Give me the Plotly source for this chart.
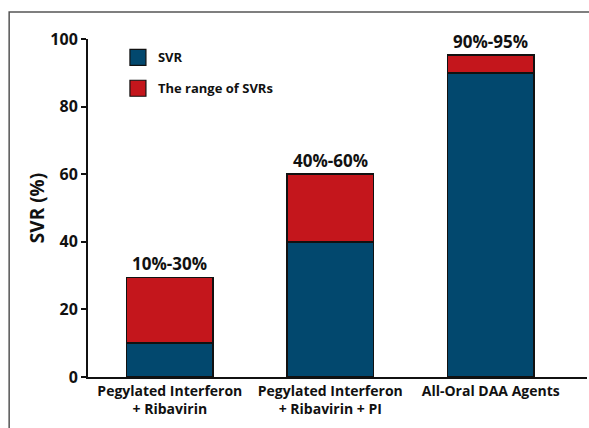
import plotly.graph_objects as go

categories = ["Pegylated Interferon<br>+ Ribavirin",
              "Pegylated Interferon<br>+ Ribavirin + PI",
              "All-Oral DAA Agents"]
svr = [10, 40, 90]
svr_range = [19.5, 20, 5.2]
range_labels = ["10%-30%", "40%-60%", "90%-95%"]
y_ticks = [0, 20, 40, 60, 80, 100]
series_names = ["SVR", "The range of SVRs"]

FONT = "Open Sans"
BLUE = "#02486E"
RED = "#C4161C"
colors = [BLUE, RED]

fig = go.Figure()
for name, vals, col in zip(series_names, [svr, svr_range], colors):
    fig.add_trace(go.Bar(x=categories, y=vals, name=name, showlegend=False,
                         marker=dict(color=col, line=dict(color="#111", width=1.5)), width=0.54))
# legend entries with larger square swatches
for i, (name, col) in enumerate(zip(series_names, colors)):
    fig.add_trace(go.Scatter(x=[None], y=[None], mode="markers", name=name, legendgroup="g%d" % i,
                             marker=dict(symbol="square", size=16, color=col, line=dict(color="#111", width=1.2))))

totals = [a + b for a, b in zip(svr, svr_range)]
for c, t, lab in zip(categories, totals, range_labels):
    fig.add_annotation(x=c, y=t, text=lab, showarrow=False, yanchor="bottom", yshift=0,
                       font=dict(family=FONT, size=17, color="#111", weight="bold"))

# frame: top and left edges (right/bottom run off the page)
fig.add_shape(type="path", xref="paper", yref="paper", path="M -0.158,-0.3 L -0.158,1.08 L 1.2,1.08",
              line=dict(color="#555", width=1.5), layer="below")

fig.update_layout(
    width=589, height=428,
    margin=dict(l=88, r=2, t=39, b=51),
    barmode="stack",
    plot_bgcolor="white", paper_bgcolor="white",
    font=dict(family=FONT, color="#111"),
    showlegend=True,
    legend=dict(x=0.06, y=0.99, xanchor="left", yanchor="top", traceorder="grouped", itemsizing="trace",
                tracegroupgap=11, font=dict(family=FONT, size=13, color="#111", weight="bold"),
                bgcolor="rgba(0,0,0,0)"),
    xaxis=dict(range=[-0.51, 2.6], showline=True, linecolor="#111", linewidth=2, ticks="",
               tickfont=dict(family=FONT, size=14, color="#111", weight="bold"), showgrid=False, fixedrange=True),
    yaxis=dict(range=[0, 100], tickvals=y_ticks, showline=True, linecolor="#111", linewidth=2,
               ticks="outside", ticklen=5, tickwidth=1.5, tickcolor="#111", showgrid=False, zeroline=False,
               tickfont=dict(family=FONT, size=16, color="#111", weight="bold"),
               title=dict(text="SVR (%)", font=dict(family=FONT, size=19, color="#111", weight="bold"), standoff=1)),
)

fig.write_html("out.html", config={"displayModeBar": False},
               post_script="document.body.style.margin='0';document.body.style.overflow='hidden';"
                           "document.documentElement.style.overflow='hidden';")
